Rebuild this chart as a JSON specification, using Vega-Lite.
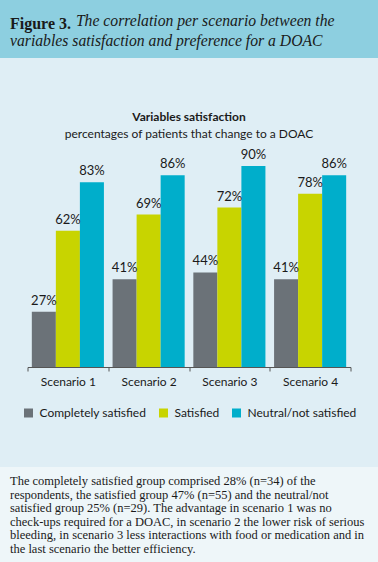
{
  "$schema": "https://vega.github.io/schema/vega-lite/v6.json",
  "background": "#dfeef5",
  "padding": 0,
  "bounds": "flush",
  "spacing": 86,
  "config": {"view": {"stroke": null}, "font": "Lato", "legend": {"layout": {"bottom": {"anchor": "middle"}}}},
  "vconcat": [
    {
      "width": 378,
      "height": 58,
      "view": {"fill": "#8dcfe0", "stroke": null},
      "data": {"values": []},
      "mark": "point",
      "encoding": {},
      "title": {
        "text": "Figure 3.",
        "subtitle": ["\u200b\u2003\u2003\u2003\u2003\u2009The correlation per scenario between the", "variables satisfaction and preference for a DOAC"],
        "anchor": "start",
        "frame": "group",
        "dx": 10,
        "offset": -52,
        "font": "Liberation Serif",
        "fontSize": 16,
        "fontWeight": "bold",
        "color": "#1a1a1a",
        "subtitleFont": "Liberation Serif",
        "subtitleFontSize": 15.7,
        "subtitleFontStyle": "italic",
        "subtitleColor": "#1a1a1a",
        "subtitleLineHeight": 20,
        "subtitlePadding": -18
      }
    },
    {
      "spacing": 100,
      "bounds": "flush",
      "center": true,
      "resolve": {"scale": {"color": "independent"}, "legend": {"color": "independent"}},
      "vconcat": [
        {
          "width": 323,
          "height": 223,
          "data": {"values": [
            {"scenario": "Scenario 1", "group": "Completely satisfied", "value": 0.27},
            {"scenario": "Scenario 1", "group": "Satisfied", "value": 0.62},
            {"scenario": "Scenario 1", "group": "Neutral/not satisfied", "value": 0.83},
            {"scenario": "Scenario 2", "group": "Completely satisfied", "value": 0.41},
            {"scenario": "Scenario 2", "group": "Satisfied", "value": 0.69},
            {"scenario": "Scenario 2", "group": "Neutral/not satisfied", "value": 0.86},
            {"scenario": "Scenario 3", "group": "Completely satisfied", "value": 0.44},
            {"scenario": "Scenario 3", "group": "Satisfied", "value": 0.72},
            {"scenario": "Scenario 3", "group": "Neutral/not satisfied", "value": 0.90},
            {"scenario": "Scenario 4", "group": "Completely satisfied", "value": 0.41},
            {"scenario": "Scenario 4", "group": "Satisfied", "value": 0.78},
            {"scenario": "Scenario 4", "group": "Neutral/not satisfied", "value": 0.86}
          ]},
          "title": {
            "text": "Variables satisfaction",
            "subtitle": "percentages of patients that change to a DOAC",
            "anchor": "middle",
            "offset": 3,
            "font": "Lato",
            "fontSize": 12,
            "fontWeight": "bold",
            "color": "#1a1a1a",
            "subtitleFont": "Lato",
            "subtitleFontSize": 12,
            "subtitleColor": "#1a1a1a",
            "subtitlePadding": 5
          },
          "encoding": {
            "x": {
              "field": "scenario",
              "type": "nominal",
              "title": null,
              "scale": {"paddingInner": 0, "paddingOuter": 0},
              "axis": {
                "labelAngle": 0,
                "labelFont": "Lato",
                "labelFontSize": 12,
                "labelColor": "#1a1a1a",
                "labelPadding": 5,
                "domainColor": "#555555",
                "tickColor": "#555555",
                "tickSize": 4,
                "tickBand": "extent"
              }
            },
            "xOffset": {
              "field": "group",
              "type": "nominal",
              "sort": ["Completely satisfied", "Satisfied", "Neutral/not satisfied"],
              "scale": {"paddingInner": 0, "paddingOuter": 0.18}
            },
            "y": {
              "field": "value",
              "type": "quantitative",
              "scale": {"domain": [0.031, 0.995], "zero": false, "clamp": true, "nice": false},
              "axis": null
            },
            "color": {
              "field": "group",
              "type": "nominal",
              "sort": ["Completely satisfied", "Satisfied", "Neutral/not satisfied"],
              "scale": {
                "domain": ["Completely satisfied", "Satisfied", "Neutral/not satisfied"],
                "range": ["#6b7278", "#c8d400", "#00aecb"]
              },
              "legend": {
                "title": null,
                "orient": "bottom",
                "direction": "horizontal",
                "symbolType": "square",
                "symbolSize": 81,
                "symbolOpacity": 1,
                "symbolStrokeWidth": 0,
                "labelFont": "Lato",
                "labelFontSize": 12,
                "labelColor": "#1a1a1a",
                "labelOffset": 5,
                "columnPadding": 11,
                "offset": 20
              }
            }
          },
          "layer": [
            {"mark": {"type": "bar"}},
            {
              "mark": {"type": "text", "baseline": "bottom", "dy": -4, "font": "Lato", "fontSize": 13, "color": "#1a1a1a"},
              "encoding": {
                "text": {"field": "value", "type": "quantitative", "format": ".0%"},
                "color": {"value": "#1a1a1a"}
              }
            }
          ]
        },
        {
          "width": 378,
          "height": 95,
          "view": {"fill": "#eef6f9", "stroke": null},
          "data": {"values": []},
          "mark": "point",
          "encoding": {},
          "title": {
            "text": [
              "The completely satisfied group comprised 28% (n=34) of the",
              "respondents, the satisfied group 47% (n=55) and the neutral/not",
              "satisfied group 25% (n=29). The advantage in scenario 1 was no",
              "check-ups required for a DOAC, in scenario 2 the lower risk of serious",
              "bleeding, in scenario 3 less interactions with food or medication and in",
              "the last scenario the better efficiency."
            ],
            "anchor": "start",
            "frame": "group",
            "dx": 10,
            "offset": -88,
            "font": "Liberation Serif",
            "fontSize": 12.5,
            "fontWeight": "normal",
            "lineHeight": 13.5,
            "color": "#1a1a1a"
          }
        }
      ]
    }
  ]
}
